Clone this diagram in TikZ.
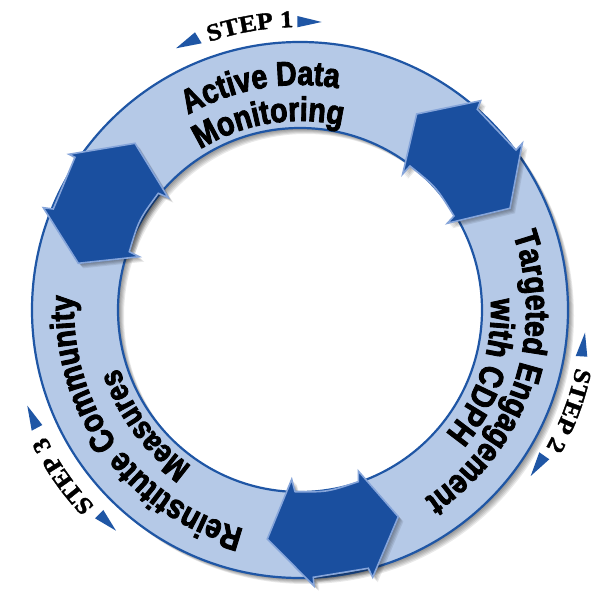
\documentclass[tikz,border=0pt]{standalone}
\usepackage{fontspec}
\usetikzlibrary{decorations.text}
\newfontfamily\heavyfont[FakeStretch=0.84,FakeBold=2.6]{Liberation Sans Bold}
\newfontfamily\stepfont[FakeStretch=1.1,FakeBold=1.5]{Liberation Serif Bold}
\definecolor{ringfill}{HTML}{B5C9E7}
\definecolor{ringline}{HTML}{1F56A5}
\definecolor{arrowfill}{HTML}{1A4F9F}
\definecolor{arrowedge}{HTML}{86A5DA}
\tikzset{
  ringshape/.style={fill=ringfill,draw=ringline,line width=2.2pt,even odd rule},
  softshadow/.style={fill=black,fill opacity=0.085,draw=none,even odd rule},
  blockarrow/.style={fill=arrowfill,draw=arrowedge,line width=1.6pt,line join=miter,miter limit=12},
  smalltip/.style={fill=ringline,draw=none}
}
\newcommand\heavyarc[4]{\path[decorate,decoration={text along path,text={|\heavyfont\fontsize{#4}{#4}\selectfont|#1},text align=center}] (300,290) ++(#2+70:#3) arc[start angle=#2+70,end angle=#2-70,radius=#3];}
\newcommand\steparc[3]{\path[decorate,decoration={text along path,text={|\stepfont\fontsize{24}{24}\selectfont|#1},text align=center}] (300,290) ++(#2+40:#3) arc[start angle=#2+40,end angle=#2-40,radius=#3];}
\newcommand\arrowone{(416.7,114) -- (480.7,100.7) -- (477.3,109.3) -- (516,150) -- (522.3,143.3) -- (510,208.3) -- (447.3,223.3) -- (454,216) .. controls (436.3,187.2) .. (410,166) -- (402.7,174) -- cycle}
\newcommand\arrowtwo{(291.7,479.3) -- (295,491.7) .. controls (327.4,492.1) .. (358.3,481.7) -- (358.3,471) -- (398.3,516.7) -- (372.7,577.3) -- (368.3,568.3) -- (313.3,577.3) -- (314,586) -- (267.3,539) -- cycle}
\newcommand\arrowthree{(135,143.3) -- (168.3,197.7) -- (158.3,193.3) .. controls (138.9,219.8) .. (129.3,251.7) -- (139.3,256.7) -- (78.3,263.3) -- (43.3,207.7) -- (53.3,209) -- (75,157.3) -- (69,154.3) -- cycle}
\begin{document}
\begin{tikzpicture}[x=1pt,y=1pt]
\useasboundingbox (0,0) rectangle (600,600);
\fill[white] (0,0) rectangle (600,600);
% ring shadow
\foreach \d in {1,2,3,4,5,6}{
  \path[softshadow] (300+\d,290-\d) circle[radius=268] (300+\d,290-\d) circle[radius=182];
}
\path[ringshape] (300,290) circle[radius=268] (300,290) circle[radius=182];
% block arrows with shadows (image coordinates, y down)
\begin{scope}[yshift=600pt,yscale=-1]
  \foreach \d in {1,2,3,4,5}{
    \path[softshadow,shift={(\d,\d)}] \arrowone;
    \path[softshadow,shift={(\d,\d)}] \arrowtwo;
    \path[softshadow,shift={(\d,\d)}] \arrowthree;
  }
  \path[blockarrow] \arrowone;
  \path[blockarrow] \arrowtwo;
  \path[blockarrow] \arrowthree;
  % small step arrowheads
  \fill[smalltip] (176,48.3) -- (195,32.3) -- (201.7,43.3) -- cycle;
  \fill[smalltip] (297.3,16) -- (321.7,22) -- (297.3,27.3) -- cycle;
  \fill[smalltip] (585,332.7) -- (587.3,356.7) -- (575.7,356) -- cycle;
  \fill[smalltip] (539.3,452.3) -- (549.3,459.3) -- (530.7,476) -- cycle;
  \fill[smalltip] (27.3,405.7) -- (42.3,425) -- (31.7,430.7) -- cycle;
  \fill[smalltip] (103.3,510) -- (116,530.7) -- (95,518.3) -- cycle;
\end{scope}
% labels
\heavyarc{Active Data}{100}{225}{34}
\heavyarc{Monitoring}{99.5}{189}{34}
\heavyarc{Targeted Engagement}{-18.5}{226}{34}
\heavyarc{with CDPH}{-18.5}{191}{34}
\heavyarc{Reinstitute Community}{216}{226}{34}
\heavyarc{Measures}{216.5}{190}{32}
\steparc{STEP 1}{100}{283}
\steparc{STEP 2}{-20.5}{282}
\steparc{STEP 3}{215}{284}
\end{tikzpicture}
\end{document}
